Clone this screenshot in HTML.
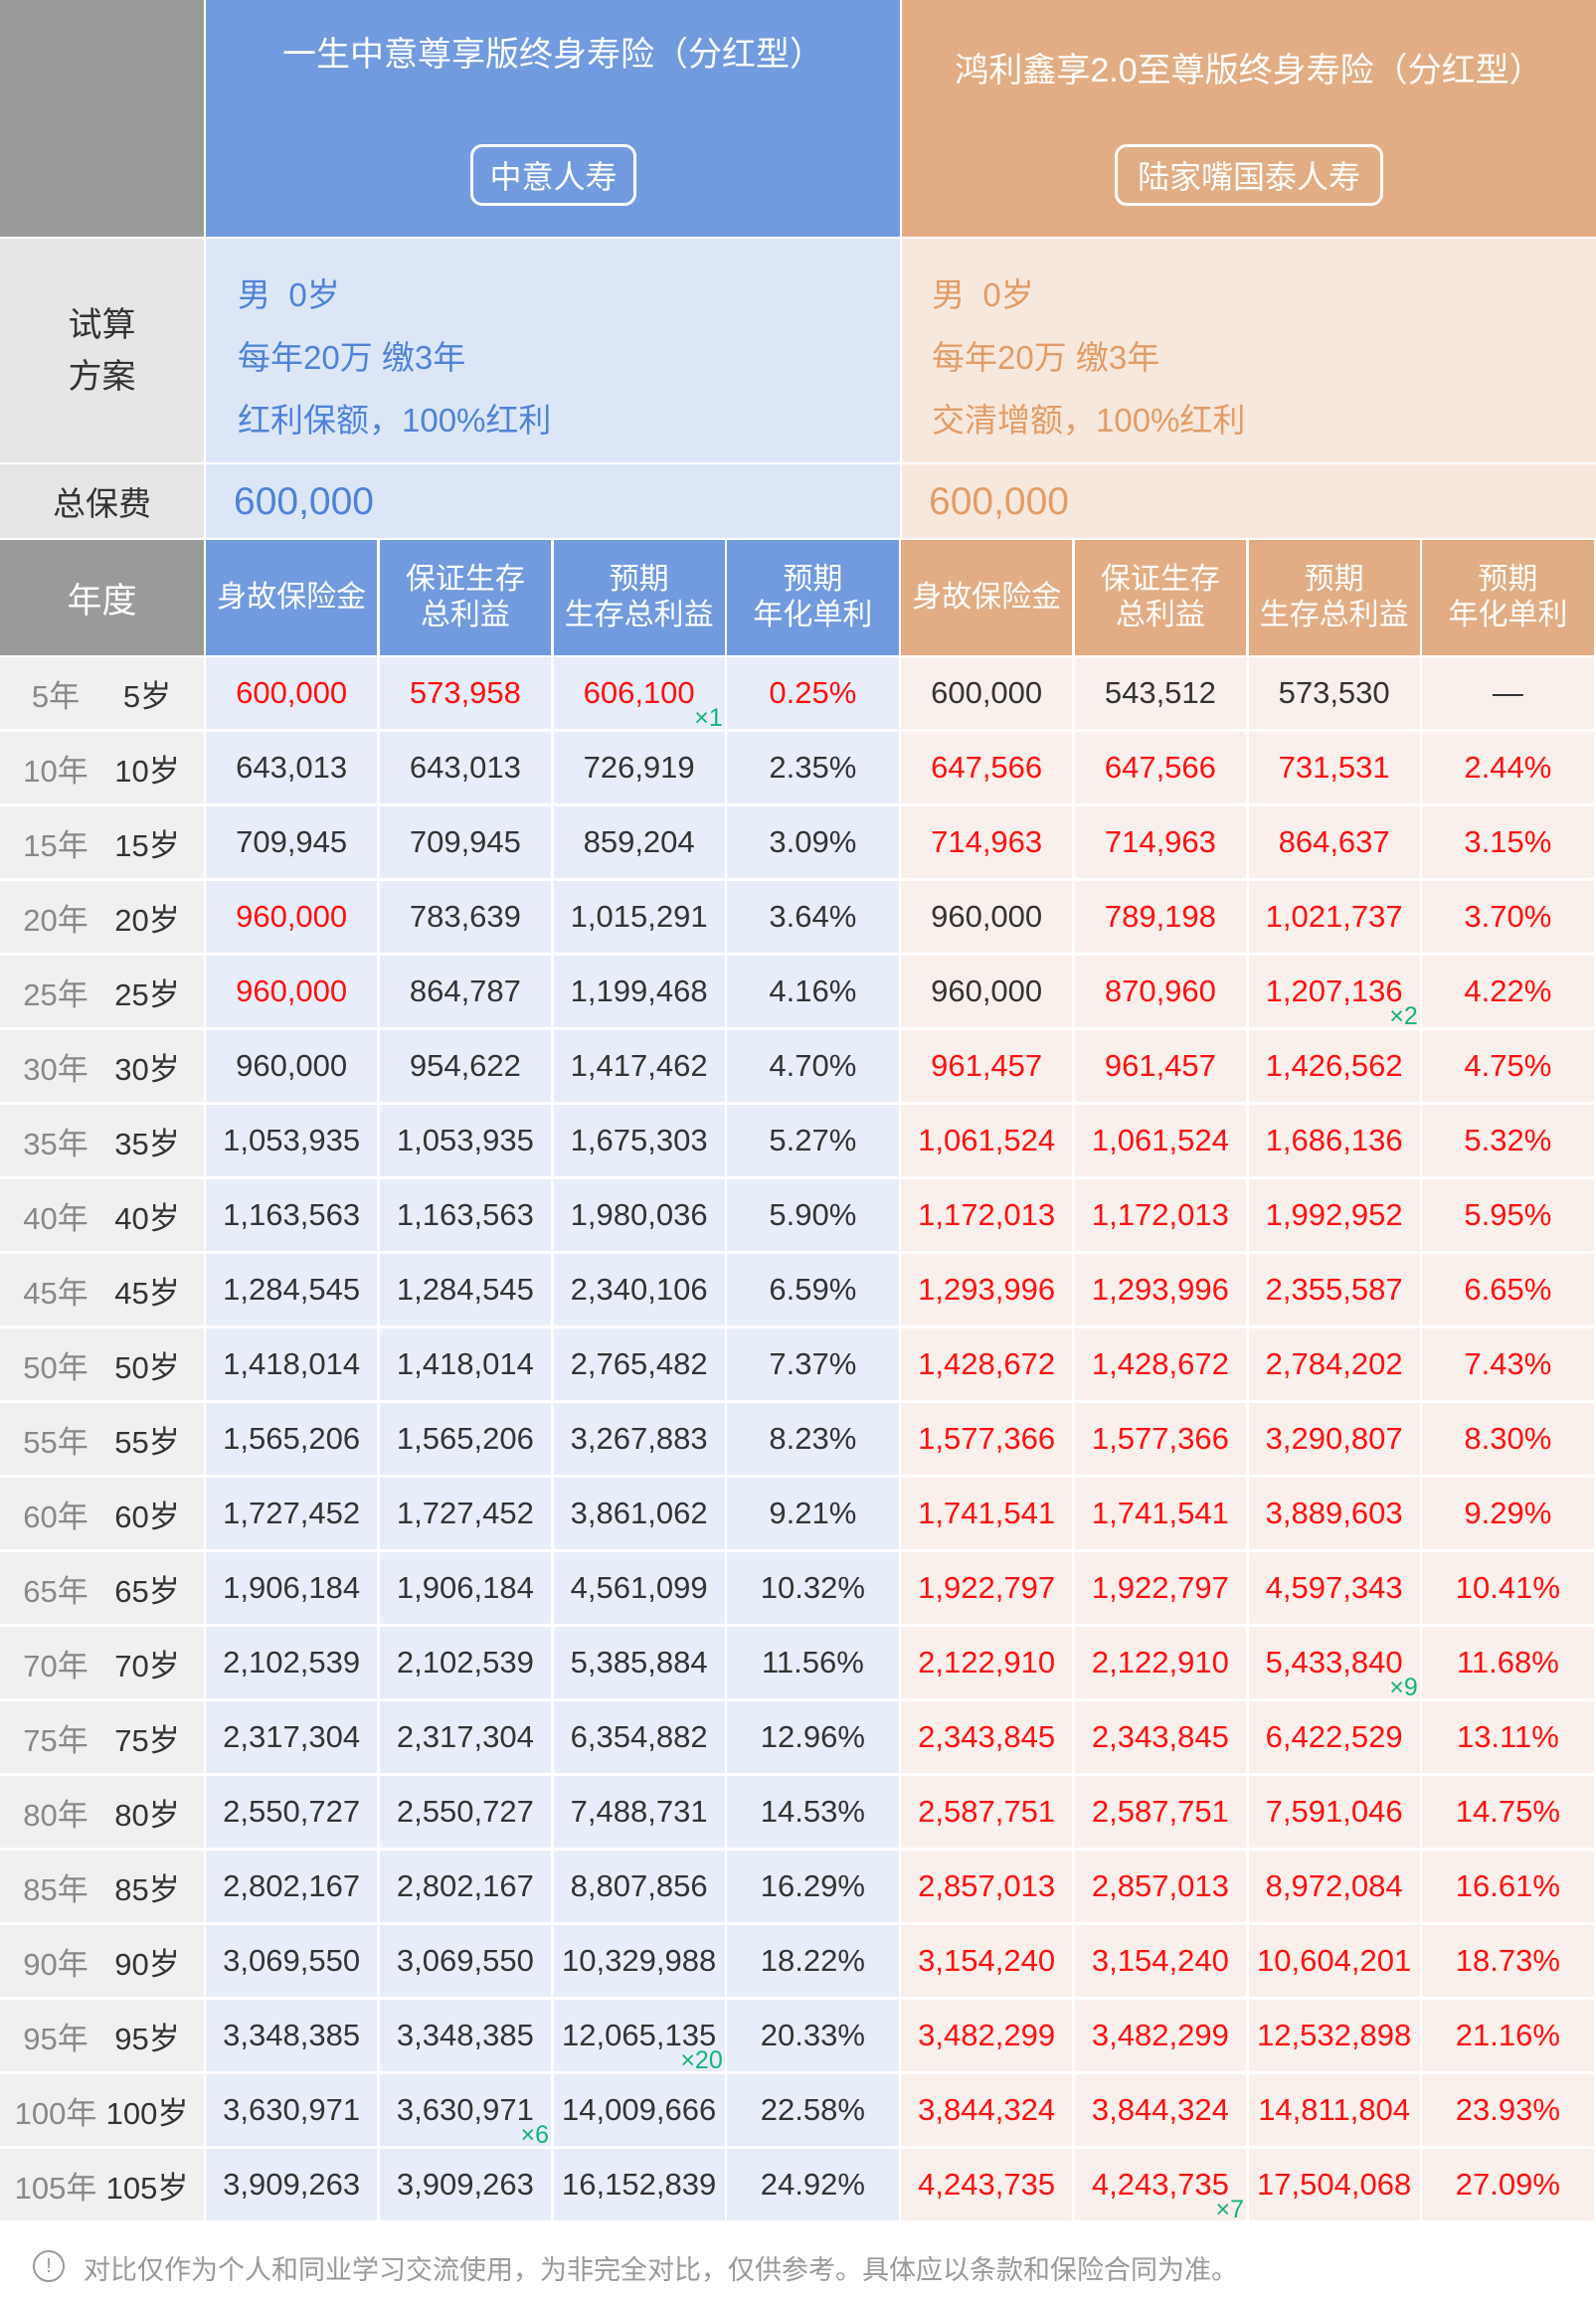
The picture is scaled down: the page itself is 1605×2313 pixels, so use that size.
<!DOCTYPE html>
<html><head><meta charset="utf-8">
<style>
body{margin:0;width:1605px;height:2313px;background:#fff;position:relative;overflow:hidden;font-family:"Liberation Sans","Noto Sans CJK SC",sans-serif;}
.a{position:absolute;box-sizing:border-box;}
.c{display:flex;align-items:center;justify-content:center;text-align:center;}
.cell{font-size:31px;color:#333;}
.red{color:#ff1010;}
.tag{position:absolute;right:2px;bottom:-4px;font-size:25px;color:#15b37a;}
</style></head><body>
<div class="a" style="left:0;top:0;width:205px;height:238px;background:#9a9a9a"></div>
<div class="a" style="left:207px;top:0;width:698px;height:238px;background:#729ade">
  <div class="a c" style="left:0;top:26px;width:698px;height:50px;font-size:34px;color:#fff">一生中意尊享版终身寿险（分红型）</div>
  <div class="a c" style="left:266px;top:145px;width:167px;height:62px;border:3px solid #fff;border-radius:12px;font-size:32px;color:#fff">中意人寿</div>
</div>
<div class="a" style="left:907px;top:0;width:698px;height:238px;background:#e2ad84">
  <div class="a c" style="left:50px;top:26px;width:598px;height:90px;font-size:34px;line-height:44px;color:#fff">鸿利鑫享2.0至尊版终身寿险（分红型）</div>
  <div class="a c" style="left:214px;top:145px;width:270px;height:62px;border:3px solid #fff;border-radius:12px;font-size:32px;color:#fff">陆家嘴国泰人寿</div>
</div>
<div class="a c" style="left:0;top:240px;width:205px;height:225px;background:#e6e6e6;font-size:34px;line-height:52px;color:#333">试算<br>方案</div>
<div class="a" style="left:207px;top:240px;width:698px;height:225px;background:#dce6f7;color:#4f82d8;font-size:33px">
  <div class="a" style="left:32px;top:30px">男&nbsp;&nbsp;0岁</div>
  <div class="a" style="left:32px;top:93px">每年20万 缴3年</div>
  <div class="a" style="left:32px;top:156px">红利保额，100%红利</div>
</div>
<div class="a" style="left:907px;top:240px;width:698px;height:225px;background:#f7e8de;color:#e29c66;font-size:33px">
  <div class="a" style="left:30px;top:30px">男&nbsp;&nbsp;0岁</div>
  <div class="a" style="left:30px;top:93px">每年20万 缴3年</div>
  <div class="a" style="left:30px;top:156px">交清增额，100%红利</div>
</div>
<div class="a c" style="left:0;top:467px;width:205px;height:74px;background:#e6e6e6;font-size:33px;color:#333">总保费</div>
<div class="a" style="left:207px;top:467px;width:698px;height:74px;background:#dce6f7;color:#4f82d8;font-size:39px;line-height:76px;padding-left:28px">600,000</div>
<div class="a" style="left:907px;top:467px;width:698px;height:74px;background:#f7e8de;color:#e29c66;font-size:39px;line-height:76px;padding-left:27px">600,000</div>
<div class="a c" style="left:0;top:543px;width:205px;height:116px;background:#9a9a9a;font-size:35px;color:#fff">年度</div>
<div id="hdr"></div>
<div id="rows"></div>
<div class="a c" style="left:33px;top:2263px;width:32px;height:32px;border:2px solid #999;border-radius:50%;font-size:20px;color:#999">!</div>
<div class="a" style="left:84px;top:2261px;font-size:27px;color:#999">对比仅作为个人和同业学习交流使用，为非完全对比，仅供参考。具体应以条款和保险合同为准。</div>
<script>
const headers=["身故保险金","保证生存<br>总利益","预期<br>生存总利益","预期<br>年化单利"];
const years=[5,10,15,20,25,30,35,40,45,50,55,60,65,70,75,80,85,90,95,100,105];
const aDeath=["600,000","643,013","709,945","960,000","960,000","960,000","1,053,935","1,163,563","1,284,545","1,418,014","1,565,206","1,727,452","1,906,184","2,102,539","2,317,304","2,550,727","2,802,167","3,069,550","3,348,385","3,630,971","3,909,263"];
const aGuar=["573,958","643,013","709,945","783,639","864,787","954,622","1,053,935","1,163,563","1,284,545","1,418,014","1,565,206","1,727,452","1,906,184","2,102,539","2,317,304","2,550,727","2,802,167","3,069,550","3,348,385","3,630,971","3,909,263"];
const aExp=["606,100","726,919","859,204","1,015,291","1,199,468","1,417,462","1,675,303","1,980,036","2,340,106","2,765,482","3,267,883","3,861,062","4,561,099","5,385,884","6,354,882","7,488,731","8,807,856","10,329,988","12,065,135","14,009,666","16,152,839"];
const aRate=["0.25%","2.35%","3.09%","3.64%","4.16%","4.70%","5.27%","5.90%","6.59%","7.37%","8.23%","9.21%","10.32%","11.56%","12.96%","14.53%","16.29%","18.22%","20.33%","22.58%","24.92%"];
const bDeath=["600,000","647,566","714,963","960,000","960,000","961,457","1,061,524","1,172,013","1,293,996","1,428,672","1,577,366","1,741,541","1,922,797","2,122,910","2,343,845","2,587,751","2,857,013","3,154,240","3,482,299","3,844,324","4,243,735"];
const bGuar=["543,512","647,566","714,963","789,198","870,960","961,457","1,061,524","1,172,013","1,293,996","1,428,672","1,577,366","1,741,541","1,922,797","2,122,910","2,343,845","2,587,751","2,857,013","3,154,240","3,482,299","3,844,324","4,243,735"];
const bExp=["573,530","731,531","864,637","1,021,737","1,207,136","1,426,562","1,686,136","1,992,952","2,355,587","2,784,202","3,290,807","3,889,603","4,597,343","5,433,840","6,422,529","7,591,046","8,972,084","10,604,201","12,532,898","14,811,804","17,504,068"];
const bRate=["—","2.44%","3.15%","3.70%","4.22%","4.75%","5.32%","5.95%","6.65%","7.43%","8.30%","9.29%","10.41%","11.68%","13.11%","14.75%","16.61%","18.73%","21.16%","23.93%","27.09%"];
const redRows=["11110000","00001111","00001111","10000111","10000111"];
const tags={"0-2":"×1","4-6":"×2","13-6":"×9","18-2":"×20","19-1":"×6","20-5":"×7"};
const cols=[aDeath,aGuar,aExp,aRate,bDeath,bGuar,bExp,bRate];
const X0=207,CW=174.75,Y0=661,RH=75;
const hdr=document.getElementById('hdr'),rows=document.getElementById('rows');
for(let k=0;k<8;k++){
  const d=document.createElement('div');
  d.className='a c';
  
  
  d.style.cssText=`left:${X0+k*CW}px;top:543px;width:${CW-2.5}px;height:116px;background:${k<4?'#729ade':'#e2ad84'};color:#fff;font-size:30px;line-height:36px;`;
  d.innerHTML=headers[k%4];
  hdr.appendChild(d);
}
years.forEach((y,i)=>{
  const top=Y0+i*RH;
  const l=document.createElement('div');
  l.className='a';
  
  
  l.style.cssText=`left:0;top:${top}px;width:205px;height:${RH-3}px;background:#f0f0f0;font-size:31px;`;
  l.innerHTML=`<div class="a c" style="left:6px;top:0;width:100px;height:100%;color:#888">${y}年</div><div class="a c" style="left:98px;top:0;width:100px;height:100%;color:#333">${y}岁</div>`;
  rows.appendChild(l);
  for(let k=0;k<8;k++){
    const c=document.createElement('div');
    c.className='a c cell';
    
    
    const red=i<5?redRows[i][k]==='1':k>=4;
    if(red) c.classList.add('red');
    c.style.cssText=`left:${X0+k*CW}px;top:${top}px;width:${CW-2.5}px;height:${RH-3}px;background:${k<4?'#e8eef9':'#faf0eb'};`;
    c.textContent=cols[k][i];
    const t=tags[i+'-'+k];
    if(t){const s=document.createElement('span');s.className='tag';
      
      
      s.textContent=t;c.appendChild(s);}
    rows.appendChild(c);
  }
});
</script>
</body></html>
